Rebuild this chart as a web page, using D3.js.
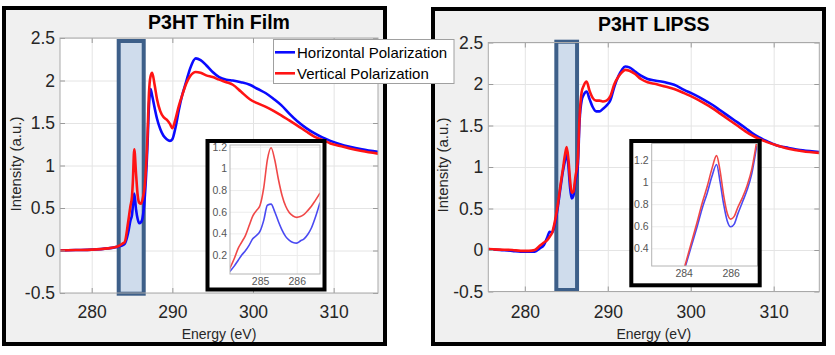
<!DOCTYPE html>
<html><head><meta charset="utf-8">
<script src="https://cdn.jsdelivr.net/npm/d3@7"></script>
<style>
body{margin:0;background:#fff}
svg{display:block}
text{font-family:"Liberation Sans",Arial,sans-serif}
</style>
</head><body>
<svg id="chart" width="835" height="355"></svg>
<script>
// ---------------- DATA ----------------
const titles = ["P3HT Thin Film", "P3HT LIPSS"];
const seriesNames = ["Horizontal Polarization", "Vertical Polarization"];
const xLabel = "Energy (eV)";
const yLabel = "Intensity (a.u.)";
const mainXTicks = [280, 290, 300, 310];
const mainYTicks = [-0.5, 0, 0.5, 1, 1.5, 2, 2.5];

// Thin film (left)
const leftEnergy = [276, 278, 280, 282, 283, 283.5, 283.8, 284.1, 284.5, 284.8, 285.0, 285.1, 285.28, 285.5, 285.7, 285.9, 286.1, 286.3, 286.6, 286.9, 287.1, 287.3, 287.5, 287.8, 288.1, 288.5, 288.9, 289.3, 289.7, 290.0, 290.4, 290.8, 291.2, 291.7, 292.2, 292.9, 293.5, 294.2, 295.0, 295.8, 296.7, 297.5, 298.5, 299.6, 300.6, 301.6, 302.6, 303.5, 304.5, 305.5, 306.6, 307.6, 308.6, 309.6, 310.8, 312.0, 313.5, 315.5];
const leftHoriz = [0.0, 0.005, 0.01, 0.025, 0.04, 0.05, 0.06, 0.08, 0.2, 0.35, 0.42, 0.52, 0.67, 0.48, 0.37, 0.32, 0.33, 0.38, 0.65, 1.2, 1.7, 1.9, 1.82, 1.68, 1.55, 1.43, 1.35, 1.31, 1.29, 1.31, 1.45, 1.65, 1.82, 1.98, 2.14, 2.26, 2.24, 2.18, 2.1, 2.04, 2.01, 2.0, 1.98, 1.95, 1.9, 1.85, 1.78, 1.71, 1.61, 1.52, 1.44, 1.38, 1.33, 1.29, 1.25, 1.22, 1.19, 1.16];
const leftVert = [0.0, 0.005, 0.01, 0.025, 0.04, 0.06, 0.08, 0.1, 0.32, 0.52, 0.64, 0.8, 1.19, 0.9, 0.65, 0.56, 0.55, 0.6, 0.78, 1.3, 1.85, 2.05, 2.09, 1.95, 1.78, 1.64, 1.57, 1.54, 1.49, 1.44, 1.55, 1.7, 1.82, 1.96, 2.05, 2.1, 2.09, 2.06, 2.04, 2.01, 1.98, 1.95, 1.87, 1.78, 1.73, 1.69, 1.64, 1.59, 1.53, 1.47, 1.40, 1.34, 1.30, 1.26, 1.23, 1.2, 1.17, 1.14];
const leftHighlight = [283.35, 286.45];

const leftInsetEnergy = [284.18, 284.3, 284.4, 284.5, 284.6, 284.7, 284.8, 284.9, 285.0, 285.1, 285.2, 285.3, 285.4, 285.5, 285.6, 285.7, 285.8, 285.9, 286.0, 286.1, 286.2, 286.3, 286.4, 286.5, 286.63];
const leftInsetHoriz = [0.05, 0.1, 0.15, 0.2, 0.24, 0.29, 0.35, 0.38, 0.42, 0.52, 0.66, 0.67, 0.6, 0.51, 0.43, 0.37, 0.335, 0.315, 0.31, 0.33, 0.35, 0.39, 0.45, 0.54, 0.68];
const leftInsetVert = [0.08, 0.17, 0.26, 0.32, 0.38, 0.47, 0.56, 0.61, 0.66, 0.82, 1.08, 1.19, 1.08, 0.9, 0.75, 0.65, 0.59, 0.56, 0.548, 0.555, 0.575, 0.61, 0.65, 0.7, 0.77];
const leftInsetXTicks = [285, 286];
const leftInsetYTicks = [0.2, 0.4, 0.6, 0.8, 1, 1.2];

// LIPSS (right)
const rightEnergy = [275.6, 277, 278.5, 279.5, 280.5, 281.2, 281.8, 282.3, 282.7, 283.0, 283.3, 283.6, 284.0, 284.3, 284.6, 284.85, 285.05, 285.25, 285.45, 285.65, 285.85, 286.1, 286.4, 286.6, 286.85, 287.1, 287.45, 287.8, 288.2, 288.6, 289.0, 289.4, 289.85, 290.3, 290.8, 291.3, 291.7, 292.1, 292.6, 293.3, 294.0, 294.8, 295.8, 296.9, 298.0, 299.2, 300.5, 301.6, 302.6, 303.6, 304.6, 305.6, 306.6, 307.4, 308.2, 309.2, 310.4, 311.8, 313.5, 315.5];
const rightHoriz = [0.01, 0.0, -0.01, -0.02, -0.02, -0.02, 0.02, 0.06, 0.15, 0.22, 0.21, 0.3, 0.53, 0.75, 0.95, 1.08, 1.16, 1.02, 0.76, 0.62, 0.65, 0.83, 1.03, 1.55, 1.8, 1.87, 1.91, 1.82, 1.72, 1.67, 1.67, 1.7, 1.74, 1.8, 1.97, 2.1, 2.17, 2.21, 2.2, 2.15, 2.1, 2.06, 2.04, 2.02, 1.99, 1.93, 1.87, 1.81, 1.75, 1.68, 1.61, 1.54, 1.47, 1.41, 1.36, 1.31, 1.26, 1.23, 1.2, 1.18];
const rightVert = [0.01, 0.005, 0.0, -0.01, -0.01, 0.0, 0.05, 0.09, 0.12, 0.16, 0.21, 0.33, 0.56, 0.78, 0.98, 1.15, 1.24, 1.1, 0.85, 0.69, 0.7, 0.88, 1.1, 1.6, 1.9, 1.98, 2.03, 1.92, 1.83, 1.8, 1.8, 1.79, 1.8, 1.85, 2.0, 2.09, 2.14, 2.17, 2.16, 2.12, 2.06, 2.02, 2.0, 1.97, 1.94, 1.89, 1.83, 1.77, 1.71, 1.64, 1.57, 1.5, 1.43, 1.38, 1.34, 1.3, 1.26, 1.22, 1.19, 1.17];
const rightHighlight = [283.8, 286.3];

const rightInsetEnergy = [284.05, 284.3, 284.55, 284.8, 285.0, 285.2, 285.4, 285.55, 285.7, 285.85, 286.0, 286.15, 286.3, 286.5, 286.7, 286.9, 287.1];
const rightInsetHoriz = [0.22, 0.4, 0.58, 0.77, 0.9, 1.05, 1.16, 1.0, 0.8, 0.65, 0.595, 0.62, 0.71, 0.82, 0.93, 1.08, 1.32];
const rightInsetVert = [0.24, 0.43, 0.62, 0.82, 0.96, 1.12, 1.24, 1.1, 0.88, 0.72, 0.665, 0.69, 0.77, 0.86, 0.97, 1.12, 1.36];
const rightInsetXTicks = [284, 286];
const rightInsetYTicks = [0.4, 0.6, 0.8, 1, 1.2];

// ---------------- DRAWING ----------------
const svg = d3.select("#chart");
const defs = svg.append("defs");
let clipN = 0;
function makeClip(x, y, w, h) {
  const id = "clip" + (clipN++);
  defs.append("clipPath").attr("id", id).append("rect")
    .attr("x", x).attr("y", y).attr("width", w).attr("height", h);
  return "url(#" + id + ")";
}
const BLUE = "#0a0aff", RED = "#ff1414";

function drawCurves(g, x, y, energy, series, colors, width, clipUrl) {
  const line = d3.line().x((d, i) => x(energy[i])).y(d => y(d)).curve(d3.curveMonotoneX);
  const cg = g.append("g").attr("clip-path", clipUrl);
  series.forEach((s, k) => {
    cg.append("path").attr("d", line(s)).attr("fill", "none")
      .attr("stroke", colors[k]).attr("stroke-width", width)
      .attr("stroke-linejoin", "round").attr("stroke-linecap", "round");
  });
}

function styleGrid(sel, color) {
  sel.select(".domain").remove();
  sel.selectAll(".tick line").attr("stroke", color).attr("stroke-width", 1);
}

function mainPanel(o) {
  const g = svg.append("g");
  g.append("rect").attr("x", o.frame[0]).attr("y", o.frame[1]).attr("width", o.frame[2]).attr("height", o.frame[3])
    .attr("fill", "#f0f0f0").attr("stroke", "none");
  const x = d3.scaleLinear().domain(o.xDomain).range([o.L, o.R]);
  const y = d3.scaleLinear().domain([-0.5, 2.5]).range([o.B, o.T]);
  const w = o.R - o.L, h = o.B - o.T;
  g.append("rect").attr("x", o.L).attr("y", o.T).attr("width", w).attr("height", h).attr("fill", "#fff");
  // grid
  g.append("g").attr("transform", `translate(0,${o.B})`)
    .call(d3.axisBottom(x).tickValues(mainXTicks).tickSize(-h).tickFormat(""))
    .call(s => styleGrid(s, "#e4e4e4"));
  g.append("g").attr("transform", `translate(${o.L},0)`)
    .call(d3.axisLeft(y).tickValues(mainYTicks).tickSize(-w).tickFormat(""))
    .call(s => styleGrid(s, "#e4e4e4"));
  // highlight box
  g.append("rect").attr("x", x(o.hl[0])).attr("width", x(o.hl[1]) - x(o.hl[0]))
    .attr("y", o.hlTop).attr("height", o.hlBot - o.hlTop)
    .attr("fill", "#cfdcec").attr("stroke", "#3d5f89").attr("stroke-width", 4);
  // curves
  drawCurves(g, x, y, o.energy, o.series, [BLUE, RED], 2.6, makeClip(o.L, o.T, w, h));
  // inward ticks on all sides
  const tk = (axis) => axis.tickFormat("").tickSizeOuter(0);
  g.append("g").attr("transform", `translate(0,${o.B})`).call(tk(d3.axisBottom(x).tickValues(mainXTicks).tickSize(-5))).call(s => styleGrid(s, "#9a9a9a"));
  g.append("g").attr("transform", `translate(0,${o.T})`).call(tk(d3.axisTop(x).tickValues(mainXTicks).tickSize(-5))).call(s => styleGrid(s, "#9a9a9a"));
  g.append("g").attr("transform", `translate(${o.L},0)`).call(tk(d3.axisLeft(y).tickValues(mainYTicks).tickSize(-5))).call(s => styleGrid(s, "#9a9a9a"));
  g.append("g").attr("transform", `translate(${o.R},0)`).call(tk(d3.axisRight(y).tickValues(mainYTicks).tickSize(-5))).call(s => styleGrid(s, "#9a9a9a"));
  g.append("rect").attr("x", o.L).attr("y", o.T).attr("width", w).attr("height", h)
    .attr("fill", "none").attr("stroke", "#a9a9a9").attr("stroke-width", 1);
  // tick labels
  const lab = (s, size) => {
    s.select(".domain").remove();
    s.selectAll(".tick line").remove();
    s.selectAll("text").attr("font-size", size).attr("fill", "#262626")
      .style("font-family", '"Liberation Sans", Arial, sans-serif');
  };
  g.append("g").attr("transform", `translate(0,${o.B})`)
    .call(d3.axisBottom(x).tickValues(mainXTicks).tickSize(0).tickPadding(o.xPad).tickFormat(d => String(d)))
    .call(s => lab(s, 17.5));
  g.append("g").attr("transform", `translate(${o.L},0)`)
    .call(d3.axisLeft(y).tickValues(mainYTicks).tickSize(0).tickPadding(5).tickFormat(d => String(d)))
    .call(s => lab(s, 17.5));
  // titles / labels
  const cx = (o.L + o.R) / 2;
  g.append("text").attr("x", cx).attr("y", o.titleY).attr("text-anchor", "middle")
    .attr("font-size", 19.5).attr("font-weight", "bold").attr("fill", "#000").text(o.title);
  g.append("text").attr("x", cx).attr("y", o.xLabY).attr("text-anchor", "middle")
    .attr("font-size", 14).attr("fill", "#262626").text(xLabel);
  g.append("text").attr("transform", `translate(${o.yLabX},${o.yLabY}) rotate(-90)`).attr("text-anchor", "middle")
    .attr("font-size", 15).attr("fill", "#262626").text(yLabel);
  // frame border
  g.append("rect").attr("x", o.frame[0]).attr("y", o.frame[1]).attr("width", o.frame[2]).attr("height", o.frame[3])
    .attr("fill", "none").attr("stroke", "#000").attr("stroke-width", 4);
  return g;
}

function insetPanel(o) {
  const g = svg.append("g");
  g.append("rect").attr("x", o.frame[0]).attr("y", o.frame[1]).attr("width", o.frame[2]).attr("height", o.frame[3])
    .attr("fill", "#fff");
  const x = d3.scaleLinear().domain(o.xDomain).range([o.L, o.R]);
  const y = d3.scaleLinear().domain(o.yDomain).range([o.B, o.T]);
  const w = o.R - o.L, h = o.B - o.T;
  g.append("g").attr("transform", `translate(0,${o.B})`)
    .call(d3.axisBottom(x).tickValues(o.xTicks).tickSize(-h).tickFormat(""))
    .call(s => styleGrid(s, "#ececec"));
  g.append("g").attr("transform", `translate(${o.L},0)`)
    .call(d3.axisLeft(y).tickValues(o.yTicks).tickSize(-w).tickFormat(""))
    .call(s => styleGrid(s, "#ececec"));
  drawCurves(g, x, y, o.energy, o.series, ["#4a4af2", "#f04848"], 1.6, makeClip(o.L, o.T, w, h));
  g.append("rect").attr("x", o.L).attr("y", o.T).attr("width", w).attr("height", h)
    .attr("fill", "none").attr("stroke", "#b4b4b4").attr("stroke-width", 1);
  const lab = (s) => {
    s.select(".domain").remove();
    s.selectAll(".tick line").remove();
    s.selectAll("text").attr("font-size", 10.5).attr("fill", "#555")
      .style("font-family", '"Liberation Sans", Arial, sans-serif');
  };
  g.append("g").attr("transform", `translate(0,${o.B})`)
    .call(d3.axisBottom(x).tickValues(o.xTicks).tickSize(0).tickPadding(4).tickFormat(d => String(d)))
    .call(lab);
  g.append("g").attr("transform", `translate(${o.L},0)`)
    .call(d3.axisLeft(y).tickValues(o.yTicks).tickSize(0).tickPadding(3).tickFormat(d => String(d)))
    .call(lab);
  g.append("rect").attr("x", o.frame[0]).attr("y", o.frame[1]).attr("width", o.frame[2]).attr("height", o.frame[3])
    .attr("fill", "none").attr("stroke", "#000").attr("stroke-width", 4);
}

mainPanel({
  frame: [4, 8, 381, 336], L: 60, R: 378, T: 38, B: 293, xDomain: [276.07, 315.5],
  energy: leftEnergy, series: [leftHoriz, leftVert], hl: leftHighlight, hlTop: 41, hlBot: 293.7,
  title: titles[0], titleY: 29, xLabY: 339, yLabX: 21, yLabY: 164, xPad: 12.5
});
insetPanel({
  frame: [207.5, 141, 117, 148.5], L: 230, R: 320, T: 145, B: 274,
  xDomain: [284.18, 286.635], yDomain: [0.025, 1.216],
  xTicks: leftInsetXTicks, yTicks: leftInsetYTicks,
  energy: leftInsetEnergy, series: [leftInsetHoriz, leftInsetVert]
});
mainPanel({
  frame: [433, 9, 391, 335], L: 488.3, R: 819.3, T: 42.5, B: 291.5, xDomain: [275.6, 315.5],
  energy: rightEnergy, series: [rightHoriz, rightVert], hl: rightHighlight, hlTop: 41.7, hlBot: 290,
  title: titles[1], titleY: 31, xLabY: 338.5, yLabX: 447.5, yLabY: 165, xPad: 14
});
insetPanel({
  frame: [631.3, 141, 128.4, 144.3], L: 651.7, R: 757.5, T: 143.5, B: 266,
  xDomain: [282.64, 287.14], yDomain: [0.24, 1.35],
  xTicks: rightInsetXTicks, yTicks: rightInsetYTicks,
  energy: rightInsetEnergy, series: [rightInsetHoriz, rightInsetVert]
});

// legend (on top)
const lg = svg.append("g");
lg.append("rect").attr("x", 273.5).attr("y", 39.5).attr("width", 180.5).attr("height", 44)
  .attr("fill", "#fff").attr("stroke", "#a0a0a0").attr("stroke-width", 1);
[BLUE, RED].forEach((c, i) => {
  const yy = 52.3 + i * 21;
  lg.append("line").attr("x1", 275).attr("x2", 295).attr("y1", yy).attr("y2", yy)
    .attr("stroke", c).attr("stroke-width", 2.6);
  lg.append("text").attr("x", 297).attr("y", yy + 5.4).attr("font-size", 15).attr("fill", "#000").text(seriesNames[i]);
});
</script>
</body></html>
